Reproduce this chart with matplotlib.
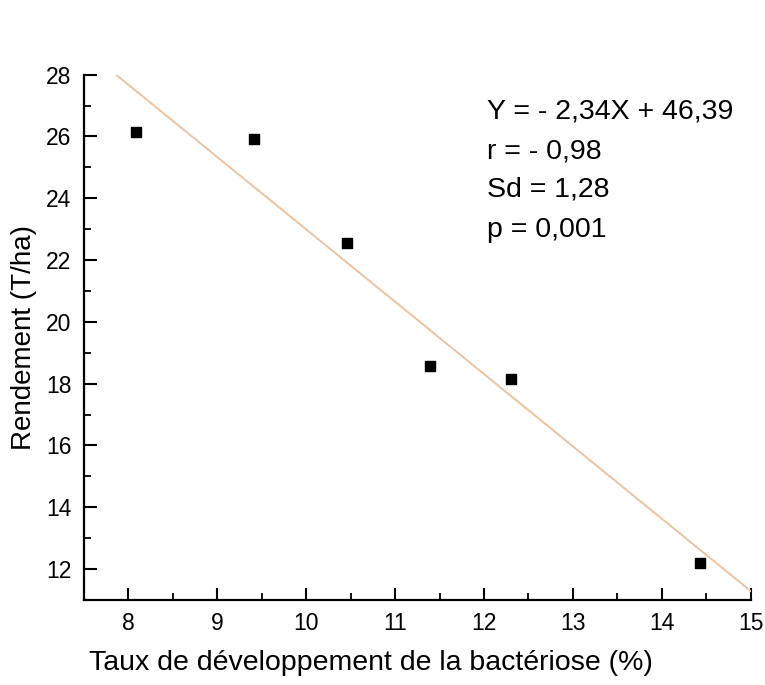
import numpy as np
import matplotlib
matplotlib.use("Agg")
import matplotlib.pyplot as plt
from matplotlib.ticker import MultipleLocator

plt.rcParams['font.family'] = ['Liberation Sans', 'DejaVu Sans']

# data
taux = [8.09, 9.41, 10.46, 11.39, 12.30, 14.43]
rendement = [26.15, 25.92, 22.54, 18.57, 18.16, 12.19]

# regression line end points
line_x = [7.86, 15.0]
line_y = [28.0, 11.29]

stats_lines = ["Y = - 2,34X + 46,39", "r = - 0,98", "Sd = 1,28", "p = 0,001"]
stats_y = [26.80, 25.51, 24.27, 22.97]

fig = plt.figure(figsize=(7.65, 6.85), dpi=100)
ax = fig.add_axes([0.1098, 0.1241, 0.9813 - 0.1098, 0.891 - 0.1241])

ax.plot(line_x, line_y, color='#ecc3a2', lw=1.4, zorder=2)
ax.scatter(taux, rendement, marker='s', s=60, color='black', zorder=3)

for txt, yy in zip(stats_lines, stats_y):
    ax.text(12.03, yy, txt, fontsize=20.5, va='center', ha='left')

ax.set_xlim(7.5, 15)
ax.set_ylim(11, 28)
ax.xaxis.set_major_locator(MultipleLocator(1))
ax.xaxis.set_minor_locator(MultipleLocator(0.5))
ax.yaxis.set_major_locator(MultipleLocator(2))
ax.yaxis.set_minor_locator(MultipleLocator(1))

ax.spines['top'].set_visible(False)
ax.spines['right'].set_visible(False)
ax.spines['left'].set_linewidth(1.6)
ax.spines['bottom'].set_linewidth(1.6)

ax.tick_params(which='major', direction='in', length=9, width=1.5, labelsize=16.5, pad=9)
ax.tick_params(which='minor', direction='in', length=5, width=1.3)

ax.set_xlabel('Taux de développement de la bactériose (%)', fontsize=20.5)
ax.xaxis.set_label_coords(0.43, -0.096)
ax.set_ylabel('Rendement (T/ha)', fontsize=20)
ax.yaxis.set_label_coords(-0.071, 0.5)

fig.savefig('out.png', dpi=100)
